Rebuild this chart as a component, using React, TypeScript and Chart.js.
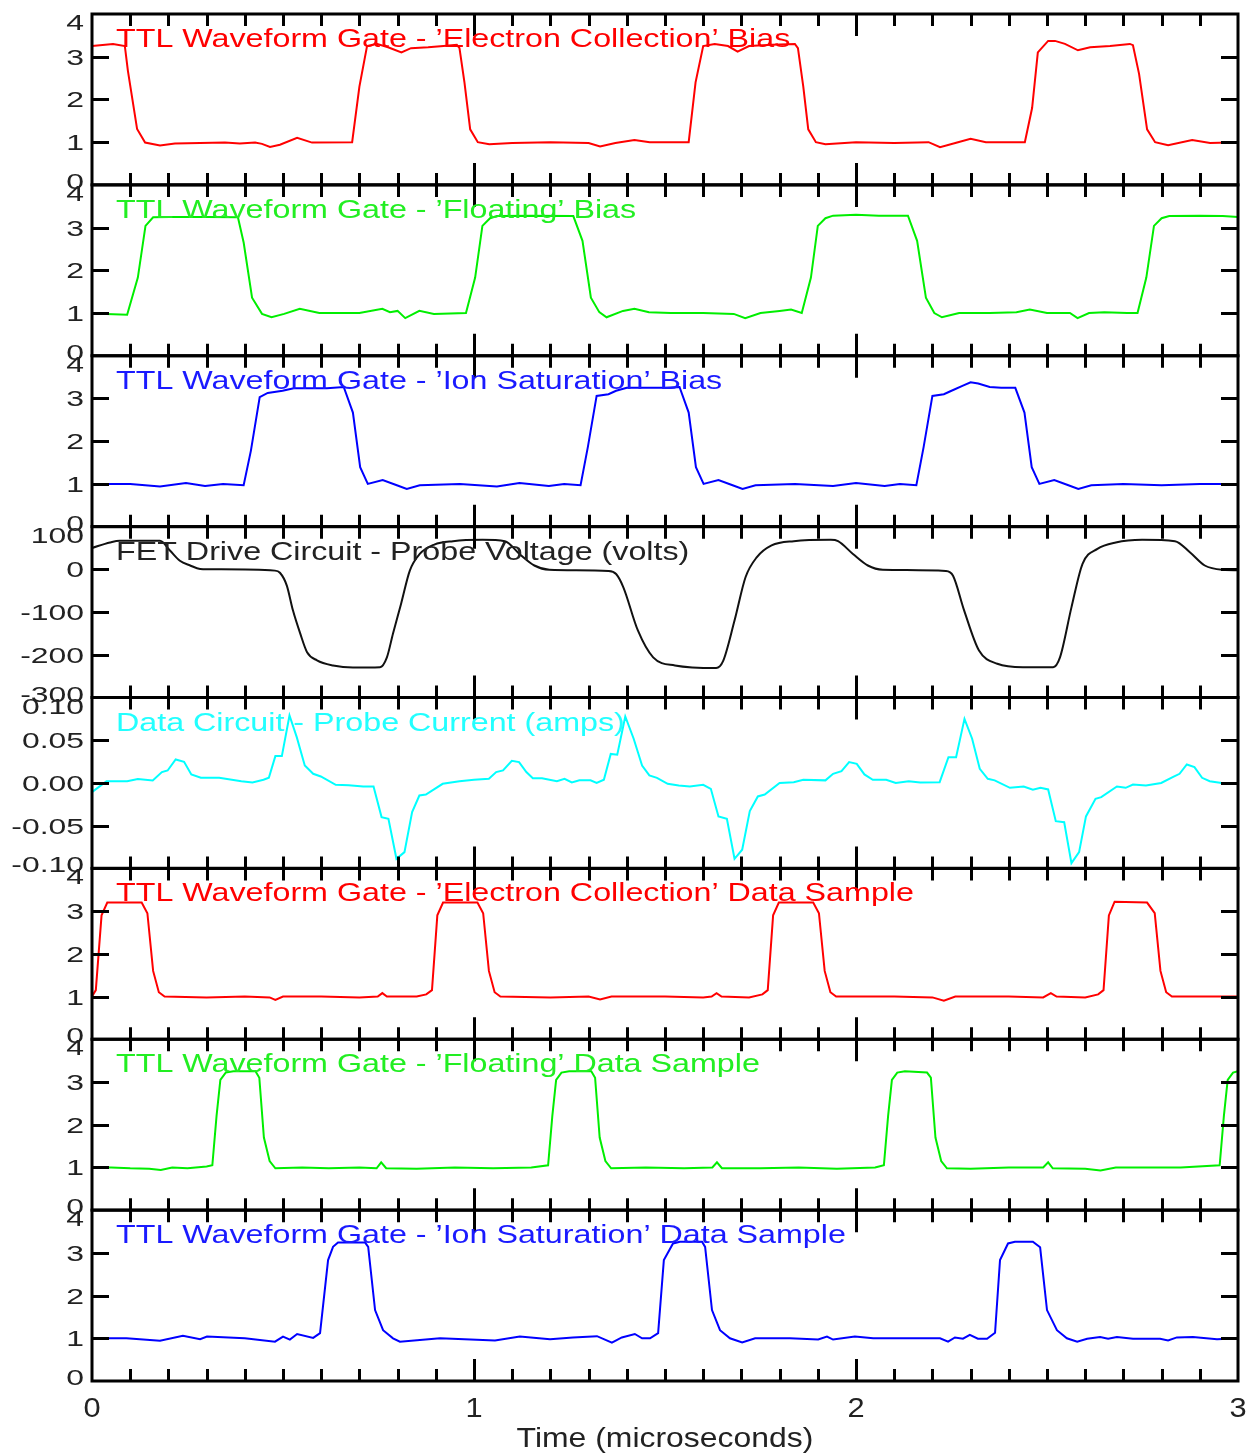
import React, { useEffect, useRef } from 'react';
import { Chart, registerables } from 'chart.js';

Chart.register(...registerables);

type Pt = [number, number];

// ---- Data (time in microseconds, value in panel units) ----
const ecBias: Pt[] = [[0,3.25],[0.055,3.3],[0.086,3.25],[0.094,2.67],[0.118,1.31],[0.139,0.99],[0.178,0.92],[0.217,0.97],[0.283,0.98],[0.348,0.99],[0.387,0.97],[0.427,0.99],[0.445,0.96],[0.466,0.89],[0.492,0.94],[0.537,1.1],[0.576,0.99],[0.681,1.0],[0.7,2.3],[0.72,3.25],[0.745,3.3],[0.775,3.22],[0.81,3.1],[0.835,3.2],[0.88,3.22],[0.92,3.25],[0.955,3.28],[0.962,3.2],[0.975,2.4],[0.99,1.3],[1.01,1.0],[1.04,0.95],[1.1,0.98],[1.2,1.0],[1.3,0.98],[1.33,0.9],[1.37,0.98],[1.42,1.05],[1.46,1.0],[1.562,1.0],[1.58,2.4],[1.6,3.25],[1.63,3.3],[1.665,3.25],[1.69,3.12],[1.72,3.25],[1.78,3.28],[1.84,3.3],[1.848,3.2],[1.862,2.3],[1.875,1.3],[1.895,1.0],[1.92,0.95],[2.0,1.0],[2.1,0.98],[2.19,1.0],[2.22,0.88],[2.26,0.98],[2.3,1.08],[2.34,1.0],[2.442,1.0],[2.461,1.8],[2.476,3.1],[2.503,3.37],[2.521,3.37],[2.547,3.3],[2.581,3.15],[2.613,3.22],[2.665,3.25],[2.717,3.3],[2.725,3.27],[2.741,2.6],[2.762,1.3],[2.783,1.0],[2.817,0.93],[2.88,1.05],[2.927,0.98],[3.0,1.0]];

const flBias: Pt[] = [[0,0.99],[0.092,0.96],[0.12,1.83],[0.14,3.04],[0.16,3.24],[0.204,3.25],[0.3,3.25],[0.382,3.24],[0.397,2.65],[0.419,1.36],[0.445,0.98],[0.47,0.9],[0.503,0.98],[0.544,1.1],[0.595,1.0],[0.7,1.0],[0.76,1.1],[0.78,1.02],[0.8,1.05],[0.82,0.88],[0.857,1.05],[0.895,0.98],[0.979,1.0],[1.003,1.83],[1.022,3.04],[1.042,3.22],[1.06,3.27],[1.15,3.28],[1.26,3.27],[1.284,2.69],[1.306,1.36],[1.328,1.02],[1.347,0.9],[1.39,1.05],[1.42,1.1],[1.458,1.02],[1.515,1.0],[1.6,1.0],[1.68,0.98],[1.71,0.88],[1.75,1.0],[1.8,1.05],[1.83,1.08],[1.858,1.0],[1.882,1.83],[1.9,3.04],[1.92,3.22],[1.94,3.28],[2.0,3.3],[2.06,3.28],[2.136,3.28],[2.16,2.69],[2.183,1.36],[2.205,1.0],[2.225,0.9],[2.27,1.0],[2.35,1.0],[2.42,1.02],[2.455,1.08],[2.5,1.0],[2.56,1.0],[2.58,0.88],[2.61,1.0],[2.65,1.02],[2.71,1.0],[2.737,1.0],[2.76,1.83],[2.78,3.04],[2.8,3.22],[2.82,3.27],[2.9,3.28],[2.96,3.27],[3.0,3.25]];

const isBias: Pt[] = [[0,1.0],[0.1,1.0],[0.178,0.94],[0.246,1.02],[0.296,0.95],[0.343,1.0],[0.397,0.97],[0.416,1.78],[0.439,3.03],[0.46,3.13],[0.499,3.18],[0.528,3.24],[0.615,3.24],[0.659,3.27],[0.683,2.67],[0.702,1.39],[0.722,1.0],[0.761,1.09],[0.798,0.97],[0.824,0.88],[0.858,0.97],[0.963,1.0],[1.06,0.94],[1.119,1.02],[1.196,0.95],[1.236,1.0],[1.279,0.97],[1.298,1.86],[1.321,3.06],[1.352,3.1],[1.372,3.18],[1.4,3.25],[1.5,3.25],[1.538,3.27],[1.562,2.67],[1.581,1.39],[1.601,1.0],[1.64,1.09],[1.677,0.97],[1.703,0.88],[1.737,0.97],[1.84,1.0],[1.94,0.95],[2.0,1.02],[2.075,0.95],[2.115,1.0],[2.158,0.97],[2.177,1.86],[2.2,3.06],[2.23,3.1],[2.25,3.18],[2.28,3.3],[2.3,3.38],[2.32,3.35],[2.35,3.27],[2.38,3.25],[2.417,3.25],[2.441,2.67],[2.46,1.39],[2.48,1.0],[2.519,1.09],[2.556,0.97],[2.582,0.88],[2.616,0.97],[2.7,1.0],[2.8,0.97],[2.9,1.0],[3.0,1.0]];

const probeVoltage: Pt[] = [[0,50],[0.047,63],[0.073,67],[0.178,67],[0.204,44],[0.23,20],[0.257,9],[0.283,1],[0.327,0],[0.479,-3],[0.492,-8],[0.51,-38],[0.526,-96],[0.545,-150],[0.563,-194],[0.589,-213],[0.631,-225],[0.683,-230],[0.754,-229],[0.772,-206],[0.788,-150],[0.809,-81],[0.832,-3],[0.858,36],[0.896,58],[0.945,66],[1.022,69],[1.081,66],[1.119,36],[1.158,9],[1.197,-1],[1.352,-4],[1.372,-11],[1.391,-42],[1.429,-143],[1.469,-206],[1.526,-225],[1.634,-231],[1.652,-215],[1.682,-120],[1.711,-18],[1.74,28],[1.779,56],[1.837,66],[1.934,69],[1.953,66],[1.992,36],[2.031,9],[2.07,-1],[2.235,-4],[2.254,-15],[2.283,-96],[2.322,-190],[2.37,-221],[2.437,-229],[2.516,-229],[2.534,-206],[2.564,-89],[2.593,13],[2.632,48],[2.68,63],[2.749,69],[2.835,66],[2.874,40],[2.913,9],[2.961,-1],[3.0,-2]];

const probeCurrent: Pt[] = [[0,-0.0107],[0.038,0.0021],[0.092,0.002],[0.12,0.0045],[0.159,0.003],[0.183,0.0127],[0.198,0.0146],[0.219,0.0275],[0.241,0.0247],[0.26,0.01],[0.285,0.006],[0.333,0.006],[0.391,0.002],[0.42,0.0006],[0.449,0.0037],[0.463,0.006],[0.48,0.0314],[0.497,0.0314],[0.517,0.079],[0.536,0.0536],[0.557,0.0204],[0.579,0.0107],[0.599,0.0076],[0.638,-0.0022],[0.672,-0.0026],[0.71,-0.0041],[0.737,-0.0041],[0.758,-0.04],[0.776,-0.042],[0.797,-0.0888],[0.818,-0.081],[0.838,-0.0342],[0.857,-0.0147],[0.874,-0.0135],[0.918,-0.001],[0.962,0.002],[1.0,0.0037],[1.039,0.0048],[1.058,0.0127],[1.076,0.0146],[1.099,0.026],[1.118,0.0244],[1.137,0.0127],[1.154,0.0056],[1.178,0.0056],[1.217,0.002],[1.237,0.0048],[1.256,0.0006],[1.276,0.003],[1.305,0.003],[1.321,0],[1.34,0.0037],[1.358,0.034],[1.375,0.033],[1.396,0.0778],[1.418,0.0517],[1.44,0.0204],[1.459,0.0088],[1.479,0.006],[1.507,-0.001],[1.536,-0.003],[1.565,-0.0041],[1.6,-0.0022],[1.62,-0.0069],[1.64,-0.0392],[1.662,-0.042],[1.682,-0.0888],[1.702,-0.0782],[1.722,-0.033],[1.743,-0.0158],[1.761,-0.0135],[1.8,0],[1.837,0.0009],[1.862,0.0037],[1.92,0.003],[1.94,0.0107],[1.962,0.0138],[1.982,0.0244],[2.002,0.0224],[2.022,0.01],[2.044,0.0037],[2.079,0.0037],[2.104,0],[2.138,0.002],[2.168,0.0006],[2.219,0.0009],[2.242,0.0302],[2.262,0.0302],[2.284,0.075],[2.304,0.0517],[2.324,0.0165],[2.345,0.0048],[2.363,0.003],[2.403,-0.0057],[2.439,-0.0041],[2.463,-0.008],[2.483,-0.0057],[2.503,-0.0076],[2.523,-0.0447],[2.545,-0.046],[2.564,-0.0938],[2.584,-0.081],[2.602,-0.0392],[2.627,-0.0186],[2.642,-0.0166],[2.683,-0.0041],[2.706,-0.0057],[2.725,-0.0018],[2.759,-0.003],[2.799,0],[2.829,0.0068],[2.847,0.0107],[2.866,0.0216],[2.886,0.0185],[2.906,0.006],[2.926,0.002],[2.957,0],[3.0,0]];

const ecData: Pt[] = [[0,1.0],[0.01,1.15],[0.025,2.9],[0.04,3.2],[0.13,3.2],[0.145,2.95],[0.16,1.6],[0.175,1.1],[0.19,1.0],[0.3,0.98],[0.4,1.0],[0.465,0.98],[0.48,0.92],[0.5,1.0],[0.6,1.0],[0.7,0.98],[0.748,1.0],[0.76,1.08],[0.772,1.0],[0.85,1.0],[0.875,1.05],[0.89,1.15],[0.904,2.9],[0.919,3.2],[1.009,3.2],[1.024,2.95],[1.039,1.6],[1.054,1.1],[1.069,1.0],[1.2,0.98],[1.3,1.0],[1.33,0.93],[1.36,1.0],[1.5,1.0],[1.6,0.98],[1.622,1.0],[1.635,1.08],[1.648,1.0],[1.72,0.98],[1.755,1.05],[1.769,1.15],[1.783,2.9],[1.798,3.2],[1.888,3.2],[1.903,2.95],[1.918,1.6],[1.933,1.1],[1.948,1.0],[2.1,1.0],[2.2,0.98],[2.23,0.9],[2.26,1.0],[2.4,1.0],[2.49,0.98],[2.51,1.08],[2.525,1.0],[2.6,0.98],[2.634,1.05],[2.648,1.15],[2.662,2.9],[2.677,3.22],[2.762,3.2],[2.782,2.95],[2.797,1.6],[2.812,1.1],[2.827,1.0],[2.9,1.0],[3.0,1.0]];

const flData: Pt[] = [[0,1.0],[0.05,1.0],[0.1,0.98],[0.15,0.97],[0.18,0.94],[0.21,1.0],[0.25,0.98],[0.3,1.02],[0.315,1.05],[0.326,2.2],[0.336,3.05],[0.35,3.22],[0.37,3.25],[0.428,3.25],[0.438,3.1],[0.45,1.7],[0.465,1.15],[0.48,0.98],[0.55,1.0],[0.62,0.98],[0.7,1.0],[0.745,0.98],[0.757,1.12],[0.77,0.98],[0.85,0.97],[0.95,1.0],[1.05,0.98],[1.15,1.0],[1.194,1.05],[1.205,2.2],[1.215,3.05],[1.229,3.22],[1.249,3.25],[1.307,3.25],[1.317,3.1],[1.329,1.7],[1.344,1.15],[1.359,0.98],[1.45,1.0],[1.55,0.98],[1.624,1.0],[1.636,1.12],[1.649,0.98],[1.75,0.98],[1.85,1.0],[1.95,0.97],[2.05,1.0],[2.073,1.05],[2.084,2.2],[2.094,3.05],[2.108,3.22],[2.128,3.25],[2.186,3.22],[2.196,3.1],[2.208,1.7],[2.223,1.15],[2.238,0.98],[2.3,0.97],[2.4,1.0],[2.49,1.0],[2.503,1.12],[2.515,0.98],[2.6,0.97],[2.64,0.93],[2.68,1.0],[2.75,1.0],[2.85,1.0],[2.952,1.05],[2.963,2.2],[2.973,3.05],[2.987,3.22],[3.0,3.25]];

const isData: Pt[] = [[0,1.0],[0.09,1.0],[0.178,0.94],[0.238,1.06],[0.283,0.98],[0.301,1.04],[0.4,1.0],[0.479,0.92],[0.5,1.04],[0.518,0.97],[0.537,1.1],[0.579,1.01],[0.597,1.12],[0.618,2.83],[0.631,3.14],[0.644,3.24],[0.715,3.24],[0.723,3.14],[0.741,1.66],[0.762,1.19],[0.788,1.0],[0.806,0.92],[0.911,1.0],[1.055,0.95],[1.12,1.04],[1.199,0.98],[1.259,1.02],[1.322,1.05],[1.361,0.9],[1.387,1.02],[1.421,1.1],[1.44,1.0],[1.461,1.0],[1.482,1.12],[1.497,2.83],[1.521,3.22],[1.539,3.26],[1.597,3.26],[1.605,3.14],[1.623,1.66],[1.644,1.19],[1.67,1.0],[1.702,0.9],[1.736,1.0],[1.827,1.0],[1.901,0.97],[1.924,1.04],[1.94,0.97],[1.997,1.04],[2.045,1.0],[2.115,1.0],[2.22,1.0],[2.241,0.92],[2.259,1.02],[2.28,0.99],[2.298,1.08],[2.319,0.99],[2.343,0.99],[2.364,1.13],[2.377,2.83],[2.398,3.22],[2.416,3.26],[2.463,3.26],[2.482,3.13],[2.5,1.66],[2.526,1.19],[2.552,1.0],[2.579,0.92],[2.605,0.99],[2.639,1.03],[2.66,0.99],[2.683,1.03],[2.725,0.99],[2.796,0.99],[2.817,0.95],[2.84,1.02],[2.882,1.03],[2.945,0.98],[3.0,1.0]];

const panelSeries: Pt[][] = [ecBias, flBias, isBias, probeVoltage, probeCurrent, ecData, flData, isData];

const panelTitles = [
  'TTL Waveform Gate - \u2019Electron Collection\u2019 Bias',
  'TTL Waveform Gate - \u2019Floating\u2019 Bias',
  'TTL Waveform Gate - \u2019Ion Saturation\u2019 Bias',
  'FET Drive Circuit - Probe Voltage (volts)',
  'Data Circuit - Probe Current (amps)',
  'TTL Waveform Gate - \u2019Electron Collection\u2019 Data Sample',
  'TTL Waveform Gate - \u2019Floating\u2019 Data Sample',
  'TTL Waveform Gate - \u2019Ion Saturation\u2019 Data Sample',
];
const panelColors = ['#ff0000', '#00ee00', '#0000ff', '#111111', '#00ffff', '#ff0000', '#00ee00', '#0000ff'];
const panelTitleColors = ['#ff0000', '#22ee22', '#1a1aff', '#222222', '#22ffff', '#ff0000', '#22ee22', '#1a1aff'];
const panelMins = [0, 0, 0, -300, -0.1, 0, 0, 0];
const panelMaxs = [4, 4, 4, 100, 0.1, 4, 4, 4];
const ttlTicks = [0, 1, 2, 3, 4];
const ttlTickLabels = ['0', '1', '2', '3', '4'];
const voltTicks = [-300, -200, -100, 0, 100];
const voltTickLabels = ['-300', '-200', '-100', '0', '100'];
const ampTicks = [-0.1, -0.05, 0, 0.05, 0.1];
const ampTickLabels = ['-0.10', '-0.05', '0.00', '0.05', '0.10'];
const panelTicks = [ttlTicks, ttlTicks, ttlTicks, voltTicks, ampTicks, ttlTicks, ttlTicks, ttlTicks];
const panelTickLabels = [ttlTickLabels, ttlTickLabels, ttlTickLabels, voltTickLabels, ampTickLabels, ttlTickLabels, ttlTickLabels, ttlTickLabels];

const timeTicks = [0, 1, 2, 3];
const timeTickLabels = ['0', '1', '2', '3'];
const timeMinorTicks = Array.from({ length: 29 }, (_, i) => (i + 1) / 10);
const timeTitle = 'Time (microseconds)';

const FONT = '"Liberation Sans", Arial, Helvetica, sans-serif';

function drawStretched(ctx: CanvasRenderingContext2D, text: string, x: number, y: number, size: number, color: string, align: CanvasTextAlign, sx: number) {
  ctx.save();
  ctx.font = `${size}px ${FONT}`;
  ctx.fillStyle = color;
  ctx.textAlign = align;
  ctx.textBaseline = 'alphabetic';
  ctx.translate(x, y);
  ctx.scale(sx, 1);
  ctx.fillText(text, 0, 0);
  ctx.restore();
}

const panelPlugin = {
  id: 'panelDecor',
  afterDatasetsDraw(chart: any) {
    const ctx: CanvasRenderingContext2D = chart.ctx;
    const xs = chart.scales.x;
    const left = xs.getPixelForValue(0);
    const right = xs.getPixelForValue(3);
    ctx.save();
    ctx.strokeStyle = '#000';
    ctx.lineWidth = 3;
    ctx.lineCap = 'butt';
    let lastBottom = 0;
    for (let p = 0; p < 8; p++) {
      const ys = chart.scales['y' + p];
      const top = ys.getPixelForValue(panelMaxs[p]);
      const bottom = ys.getPixelForValue(panelMins[p]);
      lastBottom = Math.max(lastBottom, bottom);
      ctx.strokeRect(left, top, right - left, bottom - top);
      ctx.beginPath();
      for (const t of timeMinorTicks) {
        const x = Math.round(xs.getPixelForValue(t)) + 0.5;
        const len = Math.abs(t - Math.round(t)) < 1e-6 ? 22 : 12;
        ctx.moveTo(x, top);
        ctx.lineTo(x, top + len);
        ctx.moveTo(x, bottom);
        ctx.lineTo(x, bottom - len);
      }
      const ticks = panelTicks[p];
      for (let i = 1; i < ticks.length - 1; i++) {
        const y = Math.round(ys.getPixelForValue(ticks[i])) + 0.5;
        ctx.moveTo(left, y);
        ctx.lineTo(left + 17, y);
        ctx.moveTo(right, y);
        ctx.lineTo(right - 17, y);
      }
      ctx.stroke();
      const labels = panelTickLabels[p];
      for (let i = 0; i < ticks.length; i++) {
        let cy = ys.getPixelForValue(ticks[i]);
        if (i === ticks.length - 1) cy += 8;
        if (i === 0) cy -= 4;
        drawStretched(ctx, labels[i], 84, cy + 8, 22, '#222', 'right', 1.45);
      }
      drawStretched(ctx, panelTitles[p], 116, top + 33, 26, panelTitleColors[p], 'left', 1.24);
    }
    for (let i = 0; i < timeTicks.length; i++) {
      drawStretched(ctx, timeTickLabels[i], xs.getPixelForValue(timeTicks[i]), lastBottom + 36, 28, '#222', 'center', 1.1);
    }
    drawStretched(ctx, timeTitle, xs.getPixelForValue(1.5), lastBottom + 66, 28, '#222', 'center', 1.14);
    ctx.restore();
  },
};

export default function App() {
  const ref = useRef<HTMLCanvasElement>(null);
  useEffect(() => {
    const canvas = ref.current;
    if (!canvas) return;
    const scales: any = {
      x: { type: 'linear', min: 0, max: 3, display: false },
    };
    // Stacked left axes: the last-defined scale is placed on top, so define bottom panel first.
    for (let p = panelMins.length - 1; p >= 0; p--) {
      scales['y' + p] = {
        type: 'linear',
        position: 'left',
        stack: 'panels',
        stackWeight: 1,
        min: panelMins[p],
        max: panelMaxs[p],
        display: false,
      };
    }
    const datasets = panelSeries.map((series, p) => ({
      label: panelTitles[p],
      data: series.map(([t, v]) => ({ x: t, y: v })),
      yAxisID: 'y' + p,
      borderColor: panelColors[p],
      backgroundColor: panelColors[p],
      borderWidth: 2,
      pointRadius: 0,
      tension: 0,
      cubicInterpolationMode: p === 3 ? 'monotone' : 'default',
      fill: false,
    }));
    const chart = new Chart(canvas, {
      type: 'line',
      data: { datasets } as any,
      options: {
        responsive: false,
        maintainAspectRatio: false,
        animation: false,
        layout: { padding: { left: 92, top: 14, right: 22, bottom: 73 } },
        plugins: { legend: { display: false }, tooltip: { enabled: false }, title: { display: false } },
        scales,
      } as any,
      plugins: [panelPlugin],
    });
    return () => chart.destroy();
  }, []);
  return (
    <canvas
      ref={ref}
      width={1260}
      height={1454}
      style={{ position: 'absolute', left: 0, top: 0, width: 1260, height: 1454, background: '#fff' }}
    />
  );
}
